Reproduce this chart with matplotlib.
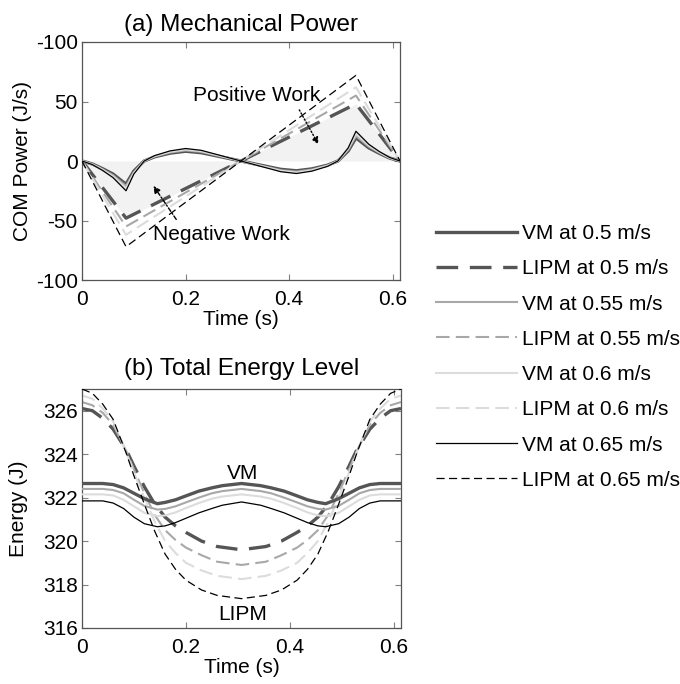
import matplotlib
matplotlib.use("Agg")
import matplotlib.pyplot as plt

plt.rcParams['font.family'] = ['Liberation Sans', 'DejaVu Sans']

# ---- (a) mechanical power ----
t_vm_pow = [0, 0.02, 0.04, 0.06, 0.085, 0.10, 0.12, 0.14, 0.17, 0.20, 0.23, 0.26, 0.307,
            0.354, 0.384, 0.414, 0.444, 0.474, 0.494, 0.514, 0.529, 0.554, 0.574, 0.594, 0.614]
vm_pow_050 = [0, -2.5, -6.5, -11, -19.5, -8.5, 0, 3.5, 6.6, 8.2, 7, 4.3, 0,
              -4.3, -7, -8.2, -6.6, -3.5, 0, 8.5, 19.5, 11, 6.5, 2.5, 0]
vm_pow_055 = [0, -2.6, -7, -12, -21, -9.5, 0, 3.8, 7.2, 8.9, 7.7, 4.7, 0,
              -4.7, -7.7, -8.9, -7.2, -3.8, 0, 9.5, 21, 12, 7, 2.6, 0]
vm_pow_060 = [0, -2.8, -7.5, -13, -23, -10.3, 0, 4.1, 7.8, 9.7, 8.3, 5.1, 0,
              -5.1, -8.3, -9.7, -7.8, -4.1, 0, 10.3, 23, 13, 7.5, 2.8, 0]
vm_pow_065 = [0, -3, -8, -14, -25, -11, 0, 4.5, 8.5, 10.5, 9, 5.5, 0,
              -5.5, -9, -10.5, -8.5, -4.5, 0, 11, 25, 14, 8, 3, 0]

t_lipm_pow = [0, 0.085, 0.307, 0.529, 0.614]
lipm_pow_050 = [0, -48, 0, 48, 0]
lipm_pow_055 = [0, -55, 0, 55, 0]
lipm_pow_060 = [0, -62, 0, 62, 0]
lipm_pow_065 = [0, -72, 0, 72, 0]

pow_ticks = [100, 50, 0, -50, -100]
pow_ticklabels = ['-100', '50', '0', '-50', '-100']

# ---- (b) total energy ----
t_vm_en = [0, 0.04, 0.06, 0.08, 0.10, 0.12, 0.145, 0.16, 0.18, 0.20, 0.225, 0.25, 0.27, 0.307,
           0.344, 0.364, 0.389, 0.414, 0.434, 0.454, 0.469, 0.494, 0.514, 0.534, 0.554, 0.574, 0.614]
vm_en_050 = [322.65, 322.65, 322.6, 322.45, 322.2, 321.95, 321.72, 321.78, 321.9, 322.08, 322.3, 322.45, 322.55, 322.65,
             322.55, 322.45, 322.3, 322.08, 321.9, 321.78, 321.72, 321.95, 322.2, 322.45, 322.6, 322.65, 322.65]
vm_en_055 = [322.4, 322.4, 322.35, 322.2, 321.9, 321.62, 321.45, 321.48, 321.6, 321.78, 322.0, 322.2, 322.3, 322.4,
             322.3, 322.2, 322.0, 321.78, 321.6, 321.48, 321.45, 321.62, 321.9, 322.2, 322.35, 322.4, 322.4]
vm_en_060 = [322.15, 322.15, 322.1, 321.9, 321.6, 321.3, 321.15, 321.18, 321.32, 321.52, 321.75, 321.95, 322.05, 322.15,
             322.05, 321.95, 321.75, 321.52, 321.32, 321.18, 321.15, 321.3, 321.6, 321.9, 322.1, 322.15, 322.15]
vm_en_065 = [321.85, 321.85, 321.75, 321.5, 321.1, 320.8, 320.66, 320.7, 320.85, 321.05, 321.3, 321.5, 321.65, 321.8,
             321.65, 321.5, 321.3, 321.05, 320.85, 320.7, 320.66, 320.8, 321.1, 321.5, 321.75, 321.85, 321.85]

t_lipm_en = [0, 0.02, 0.04, 0.06, 0.085, 0.10, 0.12, 0.14, 0.16, 0.18, 0.20, 0.23, 0.26, 0.307,
             0.354, 0.384, 0.414, 0.434, 0.454, 0.474, 0.494, 0.514, 0.529, 0.554, 0.574, 0.594, 0.614]
lipm_en_050 = [326.1, 326.0, 325.65, 325.15, 324.2, 323.45, 322.5, 321.7, 321.1, 320.7, 320.4, 320.0, 319.75, 319.6,
               319.75, 320.0, 320.4, 320.7, 321.1, 321.7, 322.5, 323.45, 324.2, 325.15, 325.65, 326.0, 326.1]
lipm_en_055 = [326.4, 326.25, 325.9, 325.35, 324.15, 323.3, 322.2, 321.2, 320.5, 320.05, 319.7, 319.35, 319.05, 318.9,
               319.05, 319.35, 319.7, 320.05, 320.5, 321.2, 322.2, 323.3, 324.15, 325.35, 325.9, 326.25, 326.4]
lipm_en_060 = [326.7, 326.55, 326.1, 325.5, 324.1, 323.15, 322.0, 320.9, 320.0, 319.45, 319.0, 318.65, 318.4, 318.25,
               318.4, 318.65, 319.0, 319.45, 320.0, 320.9, 322.0, 323.15, 324.1, 325.5, 326.1, 326.55, 326.7]
lipm_en_065 = [327.0, 326.8, 326.3, 325.6, 324.05, 323.0, 321.7, 320.45, 319.4, 318.7, 318.2, 317.75, 317.5, 317.35,
               317.5, 317.75, 318.2, 318.7, 319.4, 320.45, 321.7, 323.0, 324.05, 325.6, 326.3, 326.8, 327.0]

speeds = ['0.5', '0.55', '0.6', '0.65']

# line styles per speed: (colour, width, dash pattern)
styles = [('#555555', 2.4, (6.5, 3.5)),
          ('#a8a8a8', 1.5, (6.5, 3.0)),
          ('#dcdcdc', 1.5, (6.5, 3.0)),
          ('#000000', 0.9, (6.5, 3.5))]

fig = plt.figure(figsize=(6.8, 6.84), dpi=100)
ax1 = fig.add_axes([0.1206, 0.5906, 0.4676, 0.348])
ax2 = fig.add_axes([0.1206, 0.0819, 0.4691, 0.3494])

# shaded work region
ax1.fill_between(t_lipm_pow, 0, lipm_pow_050, color='#f2f2f2', lw=0, zorder=0)

vm_pows = [vm_pow_050, vm_pow_055, vm_pow_060, vm_pow_065]
lipm_pows = [lipm_pow_050, lipm_pow_055, lipm_pow_060, lipm_pow_065]
vm_ens = [vm_en_050, vm_en_055, vm_en_060, vm_en_065]
lipm_ens = [lipm_en_050, lipm_en_055, lipm_en_060, lipm_en_065]

handles = []
labels = []
for i, v in enumerate(speeds):
    c, lw, ds = styles[i]
    h1, = ax1.plot(t_vm_pow, vm_pows[i], color=c, lw=lw, zorder=3 + (i == 3))
    h2, = ax1.plot(t_lipm_pow, lipm_pows[i], color=c, lw=lw, linestyle=(0, ds), zorder=2 + (i == 3))
    ax2.plot(t_vm_en, vm_ens[i], color=c, lw=lw, zorder=3)
    ax2.plot(t_lipm_en, lipm_ens[i], color=c, lw=lw, linestyle=(0, ds), zorder=2 + (i == 3))
    handles += [h1, h2]
    labels += ['VM at %s m/s' % v, 'LIPM at %s m/s' % v]

fs = 15
for ax in (ax1, ax2):
    ax.set_xlim(0, 0.614)
    ax.set_xticks([0, 0.2, 0.4, 0.6])
    ax.set_xticklabels(['0', '0.2', '0.4', '0.6'])
    ax.tick_params(direction='in', top=True, right=True, length=4, width=0.8,
                   labelsize=fs, colors='#000000', pad=3)
    ax.tick_params(axis='x', pad=7)
    ax.tick_params(color='#808080')
    for s in ax.spines.values():
        s.set_color('#555555')
        s.set_linewidth(0.9)
    ax.set_xlabel('Time (s)', fontsize=fs, labelpad=1)

ax1.set_ylim(-100, 100)
ax1.set_yticks(pow_ticks)
ax1.set_yticklabels(pow_ticklabels)
ax1.set_ylabel('COM Power (J/s)', fontsize=fs, labelpad=3)
ax1.set_title('(a) Mechanical Power', fontsize=17.5, pad=8)

ax2.set_ylim(316, 327)
ax2.set_yticks([316, 318, 320, 322, 324, 326])
ax2.set_ylabel('Energy (J)', fontsize=fs, labelpad=11)
ax2.set_title('(b) Total Energy Level', fontsize=17.5, pad=10)

# annotations
ax1.annotate('', xy=(0.459, 12), xytext=(0.417, 45),
             arrowprops=dict(arrowstyle='-|>', linestyle=(0, (1, 1.5)), color='black',
                             lw=1, mutation_scale=10))
ax1.text(0.338, 55, 'Positive Work', fontsize=fs, ha='center', va='center')
ax1.annotate('', xy=(0.135, -19), xytext=(0.185, -51),
             arrowprops=dict(arrowstyle='-|>', linestyle=(0, (3, 1.5, 1, 1.5)), color='black',
                             lw=1, mutation_scale=10))
ax1.text(0.27, -62, 'Negative Work', fontsize=fs, ha='center', va='center')

ax2.text(0.309, 323.1, 'VM', fontsize=fs, ha='center', va='center')
ax2.text(0.309, 316.6, 'LIPM', fontsize=fs, ha='center', va='center')

fig.legend(handles, labels, loc='upper left', bbox_to_anchor=(0.641, 0.6725),
           frameon=False, fontsize=fs, handlelength=3.9, handletextpad=0.24,
           labelspacing=0.78, borderaxespad=0, borderpad=0)

fig.savefig('out.png', dpi=100)
plt.close(fig)
